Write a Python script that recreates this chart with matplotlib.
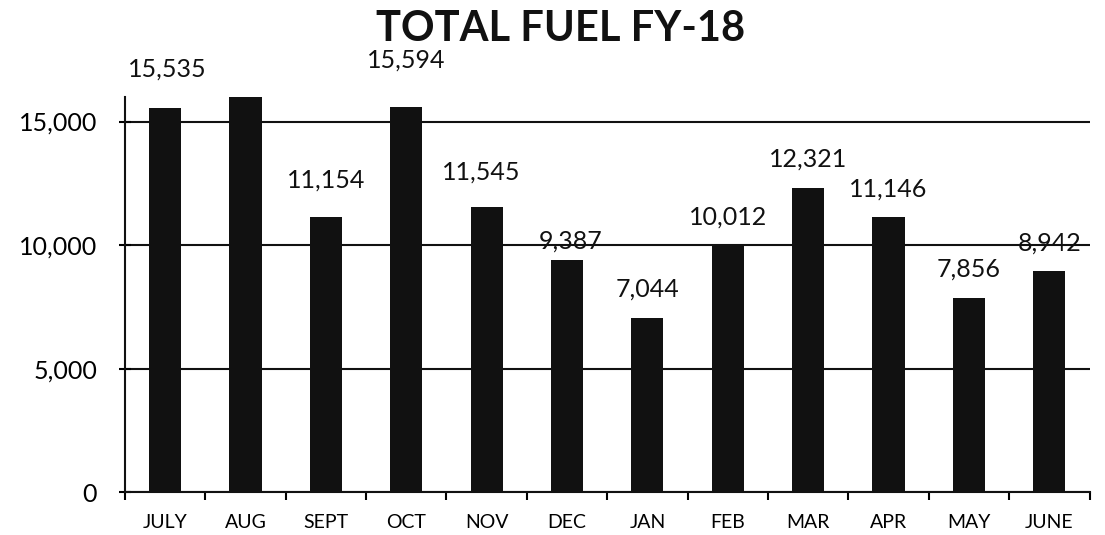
import matplotlib
matplotlib.use('Agg')
import matplotlib.pyplot as plt
from matplotlib.ticker import FuncFormatter

plt.rcParams['font.family'] = ['Lato', 'DejaVu Sans']

# 数据
months = ['JULY', 'AUG', 'SEPT', 'OCT', 'NOV', 'DEC',
          'JAN', 'FEB', 'MAR', 'APR', 'MAY', 'JUNE']
fuel = [15535, 15980, 11154, 15594, 11545, 9387,
        7044, 10012, 12321, 11146, 7856, 8942]
shown = [True, False, True, True, True, True,
         True, True, True, True, True, True]

# 标签偏移 (像素, 基线到柱顶)
label_dy = [32, 0, 29, 39, 27, 12, 22, 20, 21, 20, 21, 21]
label_dx = [2, 0, 0, 0, -5, 4, 0, 0, 0, 0, 0, 0]

fig = plt.figure(figsize=(11.05, 5.35), dpi=100)
ax = fig.add_axes([0.113, 0.080, 0.873, 0.739])

x = range(len(months))
ax.bar(x, fuel, width=0.4, color='#111111', zorder=3)

px = 72 / 100
for i, (v, s) in enumerate(zip(fuel, shown)):
    if not s:
        continue
    ax.annotate(f'{v:,}', xy=(i, v), xytext=(label_dx[i] * px, label_dy[i] * px),
                textcoords='offset points', ha='center', va='baseline',
                fontsize=18, color='#111111', zorder=4)

ax.set_xlim(-0.5, 11.5)
ax.set_ylim(0, 16000)
ax.set_yticks([0, 5000, 10000, 15000])
ax.yaxis.set_major_formatter(FuncFormatter(lambda v, p: f'{int(v):,}'))
ax.yaxis.grid(True, color='#111111', lw=1.5, zorder=1)

ax.set_xticks(x)
ax.set_xticklabels(months, fontsize=14)
ax.set_xticks([i - 0.5 for i in range(13)], minor=True)
ax.tick_params(axis='x', which='major', length=0, pad=16)
ax.tick_params(axis='x', which='minor', length=6, width=1.5, direction='out')
ax.tick_params(axis='y', length=8, width=1.5, direction='inout', labelsize=18, pad=16)

for sp in ['top', 'right']:
    ax.spines[sp].set_visible(False)
for sp in ['left', 'bottom']:
    ax.spines[sp].set_linewidth(1.5)
    ax.spines[sp].set_color('#111111')

fig.text(0.507, 0.946, 'TOTAL FUEL FY-18', ha='center', va='center',
         fontsize=30, weight='bold', color='#111111')

fig.savefig('out.png', dpi=100, facecolor='white')
plt.close()
